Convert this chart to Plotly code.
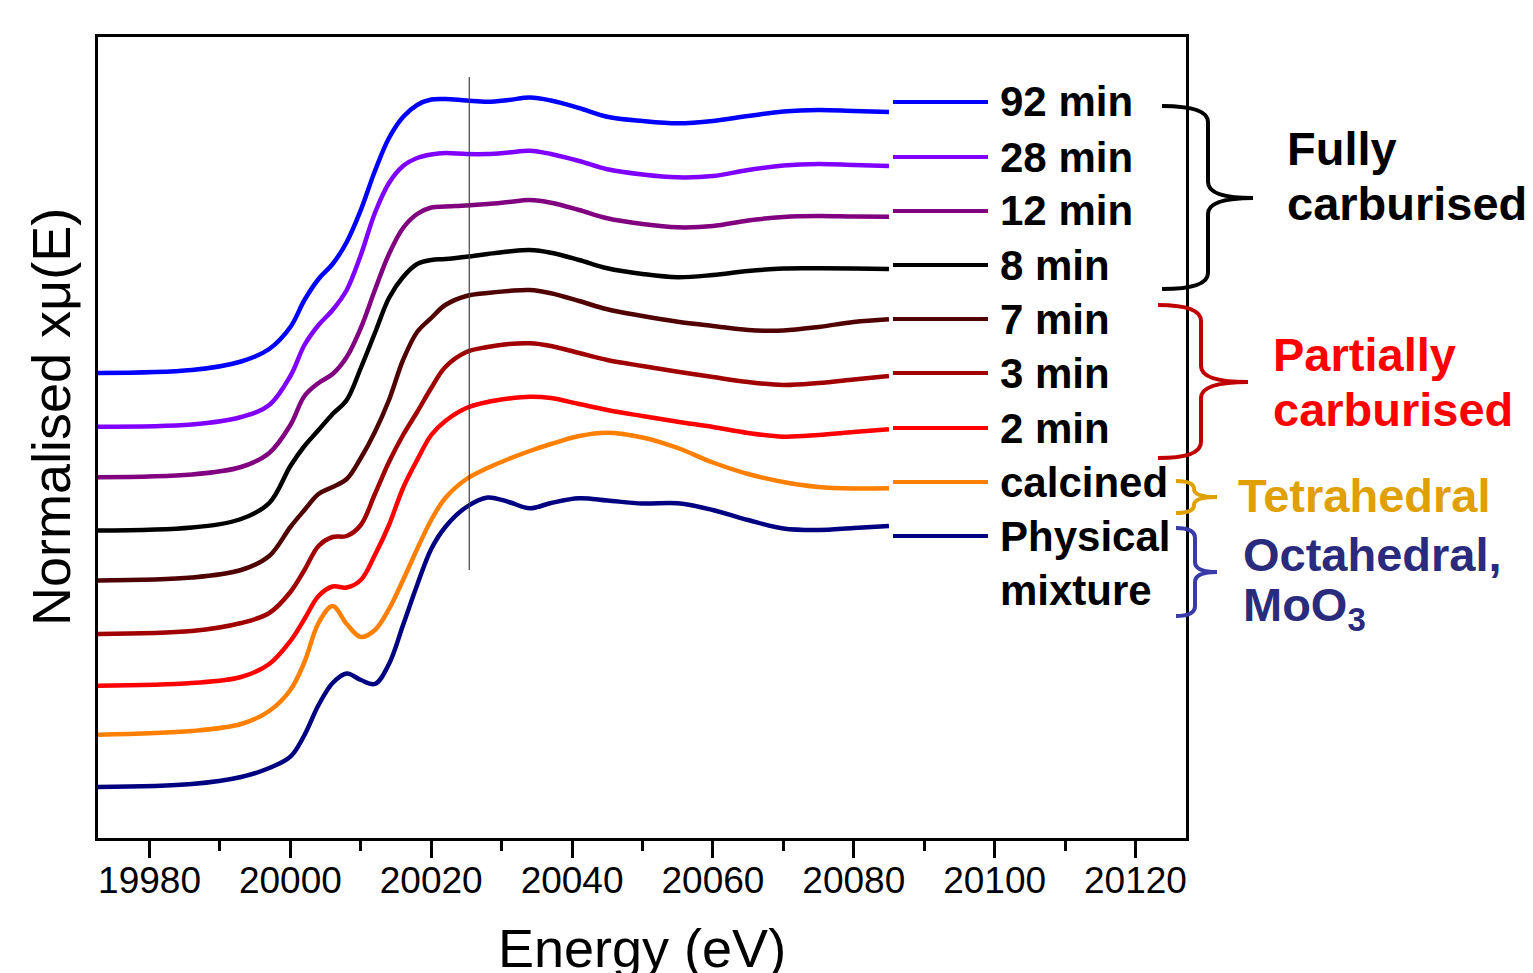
import plotly.graph_objects as go

# ---------------- data (normalised xmu(E), curves stacked with offsets, arbitrary units) -------------
energy = [19970, 19986, 19993, 19997, 20000, 20002, 20004, 20006, 20008, 20010, 20012, 20014,
          20016, 20018, 20020, 20022, 20025, 20028, 20031, 20034, 20037, 20041, 20045, 20050,
          20055, 20060, 20065, 20070, 20075, 20080, 20085]

mu_92min = [4.63, 4.66, 4.745, 4.87, 5.09, 5.36, 5.57, 5.72, 5.94, 6.26, 6.65, 6.98, 7.19, 7.31,
            7.365, 7.37, 7.355, 7.343, 7.36, 7.385, 7.355, 7.28, 7.193, 7.15, 7.127, 7.15, 7.20,
            7.245, 7.26, 7.25, 7.24]
mu_28min = [4.093, 4.115, 4.19, 4.31, 4.60, 4.91, 5.11, 5.26, 5.46, 5.81, 6.23, 6.53, 6.70, 6.78,
            6.815, 6.83, 6.82, 6.82, 6.835, 6.853, 6.82, 6.75, 6.667, 6.615, 6.587, 6.60, 6.66,
            6.705, 6.72, 6.71, 6.70]
mu_12min = [3.587, 3.615, 3.69, 3.83, 4.11, 4.40, 4.53, 4.62, 4.79, 5.08, 5.46, 5.82, 6.08, 6.22,
            6.285, 6.295, 6.305, 6.32, 6.34, 6.36, 6.333, 6.26, 6.177, 6.12, 6.087, 6.10, 6.155,
            6.19, 6.20, 6.195, 6.193]
mu_8min = [3.053, 3.085, 3.17, 3.33, 3.70, 3.90, 4.06, 4.22, 4.36, 4.68, 5.03, 5.38, 5.59, 5.72,
           5.76, 5.77, 5.793, 5.82, 5.845, 5.86, 5.833, 5.76, 5.677, 5.62, 5.587, 5.61, 5.65,
           5.675, 5.677, 5.675, 5.67]
mu_7min = [2.553, 2.585, 2.66, 2.80, 3.09, 3.26, 3.42, 3.49, 3.57, 3.78, 4.04, 4.36, 4.76, 5.04,
           5.18, 5.31, 5.40, 5.43, 5.45, 5.46, 5.427, 5.35, 5.267, 5.20, 5.143, 5.10, 5.06,
           5.055, 5.09, 5.14, 5.167]
mu_3min = [2.02, 2.05, 2.13, 2.23, 2.44, 2.66, 2.90, 2.99, 3.00, 3.11, 3.42, 3.74, 4.01, 4.24,
           4.48, 4.69, 4.84, 4.89, 4.92, 4.927, 4.90, 4.83, 4.76, 4.70, 4.643, 4.59, 4.54,
           4.51, 4.53, 4.565, 4.60]
mu_2min = [1.50, 1.53, 1.59, 1.72, 1.95, 2.17, 2.40, 2.495, 2.485, 2.56, 2.81, 3.11, 3.48, 3.76,
           4.01, 4.15, 4.28, 4.34, 4.375, 4.393, 4.38, 4.32, 4.26, 4.20, 4.143, 4.09, 4.03,
           3.993, 4.01, 4.04, 4.067]
mu_calcined = [1.01, 1.05, 1.12, 1.25, 1.46, 1.74, 2.13, 2.30, 2.12, 1.99, 2.06, 2.27, 2.56, 2.87,
               3.16, 3.38, 3.57, 3.68, 3.77, 3.85, 3.92, 4.00, 4.033, 3.985, 3.88, 3.735, 3.62,
               3.54, 3.49, 3.475, 3.477]
mu_physical = [0.487, 0.52, 0.59, 0.68, 0.793, 1.01, 1.31, 1.53, 1.625, 1.56, 1.52, 1.72, 2.11,
               2.51, 2.87, 3.09, 3.29, 3.385, 3.34, 3.277, 3.33, 3.377, 3.355, 3.325, 3.327, 3.26,
               3.16, 3.075, 3.06, 3.08, 3.10]

series_names = ["92 min", "28 min", "12 min", "8 min", "7 min", "3 min", "2 min", "calcined",
                "Physical mixture"]
series_values = [mu_92min, mu_28min, mu_12min, mu_8min, mu_7min, mu_3min, mu_2min, mu_calcined,
                 mu_physical]
series_colors = ["#0000FF", "#8000FF", "#800080", "#000000", "#500000", "#A00000", "#FF0000",
                 "#FF8000", "#000080"]

marker_energy = [20025.4, 20025.4]
marker_level = [7.59, 2.66]

tick_vals = [19980, 20000, 20020, 20040, 20060, 20080, 20100, 20120]
tick_text = ["19980", "20000", "20020", "20040", "20060", "20080", "20100", "20120"]
minor_vals = [19990, 20010, 20030, 20050, 20070, 20090, 20110]

groups = [
    (["Fully", "carburised"], "#000000", "#000000"),
    (["Partially", "carburised"], "#FF0000", "#C00000"),
    (["Tetrahedral"], "#E0A000", "#E0A000"),
    (["Octahedral,", "MoO<sub>3</sub>"], "#2B2B7E", "#3A3AA8"),
]

# ---------------- layout helpers (page pixel -> paper) ----------------
OFF = 8                      # default body margin of the html page
PAGE_W, PAGE_H = 1533, 973
W, H = PAGE_W - OFF, PAGE_H - OFF
PLOT_L, PLOT_R, PLOT_T, PLOT_B = 98, 1186, 37, 838   # plot frame in page pixels
ML, MT = PLOT_L - OFF, PLOT_T - OFF
MR, MB = W - (PLOT_R - OFF), H - (PLOT_B - OFF)
PW, PH = W - ML - MR, H - MT - MB


def fx(px):
    return (px - PLOT_L) / PW


def fy(py):
    return (PLOT_B - py) / PH


FONT = "Liberation Sans, Arial, sans-serif"

fig = go.Figure()

for name, vals, col in zip(series_names, series_values, series_colors):
    fig.add_trace(go.Scatter(x=energy, y=vals, mode="lines", name=name,
                             line=dict(color=col, width=4.5, shape="spline", smoothing=1.0),
                             showlegend=False, hoverinfo="x+y+name"))

fig.add_trace(go.Scatter(x=marker_energy, y=marker_level, mode="lines",
                         line=dict(color="#404040", width=1.2), showlegend=False,
                         hoverinfo="skip"))

shapes = []
annotations = []

# legend keys + labels
key_y = [102, 157, 211, 265, 319, 373, 428, 482, 536]
for i, (name, col) in enumerate(zip(series_names, series_colors)):
    y = key_y[i]
    shapes.append(dict(type="line", xref="paper", yref="paper", x0=fx(893), x1=fx(988),
                       y0=fy(y), y1=fy(y), line=dict(color=col, width=4)))
    words = [name] if name != "Physical mixture" else ["Physical", "mixture"]
    for j, w in enumerate(words):
        annotations.append(dict(text=w, xref="paper", yref="paper", x=fx(998),
                                y=fy(y + j * 54), xanchor="left", yanchor="middle",
                                showarrow=False,
                                font=dict(family=FONT, size=42, color="black", weight="bold")))


def brace(xa, xs, xt, yt, ym, yb, r):
    pts = [
        f"M{fx(xa)},{fy(yt)}",
        f"Q{fx(xs)},{fy(yt)} {fx(xs)},{fy(yt + r)}",
        f"L{fx(xs)},{fy(ym - r)}",
        f"Q{fx(xs)},{fy(ym)} {fx(xt)},{fy(ym)}",
        f"Q{fx(xs)},{fy(ym)} {fx(xs)},{fy(ym + r)}",
        f"L{fx(xs)},{fy(yb - r)}",
        f"Q{fx(xs)},{fy(yb)} {fx(xa)},{fy(yb)}",
    ]
    return " ".join(pts)


brace_geo = [
    (1162, 1208, 1253, 106, 198, 289, 16),
    (1158, 1201, 1248, 305, 382, 458, 16),
    (1176, 1194, 1217, 481, 497, 513, 8),
    (1176, 1195, 1217, 528, 572, 616, 10),
]
text_pos = [
    (1285, [150, 206]),
    (1271, [356, 411]),
    (1236, [497]),
    (1241, [556, 610]),
]
for (lines, tcol, bcol), geo, (tx, tys) in zip(groups, brace_geo, text_pos):
    shapes.append(dict(type="path", xref="paper", yref="paper", path=brace(*geo),
                       line=dict(color=bcol, width=4)))
    for line, ty in zip(lines, tys):
        annotations.append(dict(text=line, xref="paper", yref="paper", x=fx(tx), y=fy(ty - 2),
                                xanchor="left", yanchor="middle", showarrow=False,
                                font=dict(family=FONT, size=47, color=tcol, weight="bold")))

# axis titles
annotations.append(dict(text="Energy (eV)", xref="paper", yref="paper", x=fx(642), y=fy(948),
                        xanchor="center", yanchor="middle", showarrow=False,
                        font=dict(family=FONT, size=54, color="black")))
annotations.append(dict(text="Normalised xμ(E)", xref="paper", yref="paper", x=fx(51),
                        y=fy(417), xanchor="center", yanchor="middle", textangle=-90,
                        showarrow=False, font=dict(family=FONT, size=54, color="black")))

fig.update_layout(
    width=W, height=H,
    margin=dict(l=ML, r=MR, t=MT, b=MB, pad=0),
    paper_bgcolor="white", plot_bgcolor="white",
    showlegend=False,
    shapes=shapes, annotations=annotations,
    xaxis=dict(range=[19972.68, 20127.18], tickmode="array", tickvals=tick_vals,
               ticktext=tick_text, ticks="outside", ticklen=17, tickwidth=2.5,
               tickcolor="black", showline=True, linewidth=2.5, linecolor="black",
               mirror=True, showgrid=False, zeroline=False, ticklabelstandoff=-9,
               tickfont=dict(family=FONT, size=37, color="black"),
               minor=dict(tickmode="array", tickvals=minor_vals, ticks="outside", ticklen=10,
                          tickwidth=2.5, tickcolor="black", showgrid=False)),
    yaxis=dict(range=[-0.02, 7.99], showticklabels=False, ticks="", showline=True,
               linewidth=2.5, linecolor="black", mirror=True, showgrid=False,
               zeroline=False),
)

fig.write_html("out.html")
